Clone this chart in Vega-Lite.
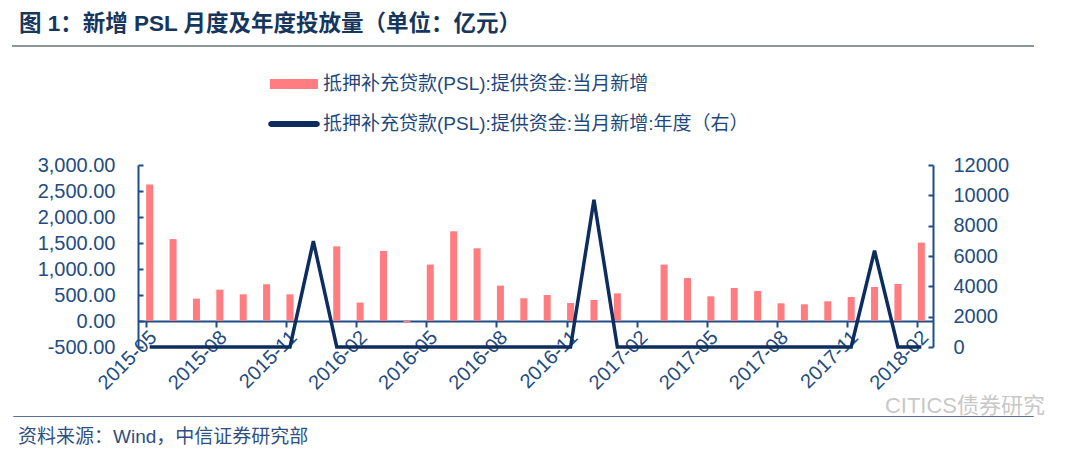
{
  "$schema": "https://vega.github.io/schema/vega-lite/v6.json",
  "padding": {"left": 12, "top": 11, "right": 0, "bottom": 0},
  "autosize": {"type": "pad"},
  "config": {
    "font": "Liberation Sans, Noto Sans CJK SC",
    "view": {"stroke": null},
    "axis": {"grid": false, "title": null}
  },
  "datasets": {
    "psl": [
      {"month": "2015-05", "monthly": 2625, "annual": 0},
      {"month": "2015-06", "monthly": 1575, "annual": 0},
      {"month": "2015-07", "monthly": 430, "annual": 0},
      {"month": "2015-08", "monthly": 603, "annual": 0},
      {"month": "2015-09", "monthly": 513, "annual": 0},
      {"month": "2015-10", "monthly": 705, "annual": 0},
      {"month": "2015-11", "monthly": 513, "annual": 0},
      {"month": "2015-12", "monthly": null, "annual": 6981},
      {"month": "2016-01", "monthly": 1436, "annual": 0},
      {"month": "2016-02", "monthly": 354, "annual": 0},
      {"month": "2016-03", "monthly": 1346, "annual": 0},
      {"month": "2016-04", "monthly": -35, "annual": 0},
      {"month": "2016-05", "monthly": 1085, "annual": 0},
      {"month": "2016-06", "monthly": 1725, "annual": 0},
      {"month": "2016-07", "monthly": 1398, "annual": 0},
      {"month": "2016-08", "monthly": 680, "annual": 0},
      {"month": "2016-09", "monthly": 437, "annual": 0},
      {"month": "2016-10", "monthly": 500, "annual": 0},
      {"month": "2016-11", "monthly": 346, "annual": 0},
      {"month": "2016-12", "monthly": 404, "annual": 9714},
      {"month": "2017-01", "monthly": 532, "annual": 0},
      {"month": "2017-02", "monthly": null, "annual": 0},
      {"month": "2017-03", "monthly": 1085, "annual": 0},
      {"month": "2017-04", "monthly": 827, "annual": 0},
      {"month": "2017-05", "monthly": 475, "annual": 0},
      {"month": "2017-06", "monthly": 635, "annual": 0},
      {"month": "2017-07", "monthly": 577, "annual": 0},
      {"month": "2017-08", "monthly": 340, "annual": 0},
      {"month": "2017-09", "monthly": 321, "annual": 0},
      {"month": "2017-10", "monthly": 379, "annual": 0},
      {"month": "2017-11", "monthly": 462, "annual": 0},
      {"month": "2017-12", "monthly": 654, "annual": 6350},
      {"month": "2018-01", "monthly": 712, "annual": 0},
      {"month": "2018-02", "monthly": 1508, "annual": 0}
    ]
  },
  "bounds": "full",
  "spacing": 1,
  "vconcat": [
    {
      "bounds": "flush",
      "spacing": 118,
      "vconcat": [
        {
          "width": 1020,
          "height": 0.01,
          "view": {"stroke": "#8C979C", "strokeWidth": 2},
          "title": {
            "text": "图 1：新增 PSL 月度及年度投放量（单位：亿元）",
            "anchor": "start",
            "frame": "group",
            "fontSize": 22.5,
            "fontWeight": "bold",
            "color": "#17365D",
            "offset": 5,
            "dx": 6
          },
          "data": {"values": [{}]},
          "mark": {"type": "text", "text": ""}
        },
        {
          "bounds": "flush",
          "spacing": 0,
          "hconcat": [
            {
              "width": 125,
              "height": 182,
              "data": {"values": [{}]},
              "mark": {"type": "text", "text": ""}
            },
            {
              "width": 795,
              "height": 182,
              "data": {"name": "psl"},
              "encoding": {
                "x": {
                  "field": "month",
                  "type": "ordinal",
                  "sort": null,
                  "scale": {
                    "type": "band",
                    "paddingInner": 0.7,
                    "paddingOuter": 0.35,
                    "domain": ["2015-05", "2015-06", "2015-07", "2015-08", "2015-09", "2015-10", "2015-11", "2015-12", "2016-01", "2016-02", "2016-03", "2016-04", "2016-05", "2016-06", "2016-07", "2016-08", "2016-09", "2016-10", "2016-11", "2016-12", "2017-01", "2017-02", "2017-03", "2017-04", "2017-05", "2017-06", "2017-07", "2017-08", "2017-09", "2017-10", "2017-11", "2017-12", "2018-01", "2018-02"]
                  },
                  "axis": {
                    "values": ["2015-05", "2015-08", "2015-11", "2016-02", "2016-05", "2016-08", "2016-11", "2017-02", "2017-05", "2017-08", "2017-11", "2018-02"],
                    "bandPosition": 0,
                    "labelOffset": 4,
                    "offset": -26,
                    "labelAngle": -45,
                    "labelAlign": "right",
                    "labelBaseline": "middle",
                    "labelFontSize": 20,
                    "labelColor": "#244C80",
                    "labelPadding": 7,
                    "tickSize": 6,
                    "tickWidth": 2,
                    "tickColor": "#1D4E89",
                    "domainWidth": 2,
                    "domainColor": "#1D4E89"
                  }
                }
              },
              "layer": [
                {
                  "mark": {"type": "bar"},
                  "encoding": {
                    "y": {
                      "field": "monthly",
                      "type": "quantitative",
                      "scale": {"domain": [-500, 3000], "nice": false, "zero": false},
                      "axis": {
                        "orient": "left",
                        "values": [-500, 0, 500, 1000, 1500, 2000, 2500, 3000],
                        "labelExpr": "replace(format(datum.value, ',.2f'), '−', '-')",
                        "labelFontSize": 20,
                        "labelColor": "#244C80",
                        "labelPadding": 28,
                        "tickSize": -5,
                        "tickWidth": 2,
                        "tickColor": "#1D4E89",
                        "domainWidth": 2,
                        "domainColor": "#1D4E89"
                      }
                    },
                    "color": {
                      "datum": "抵押补充贷款(PSL):提供资金:当月新增",
                      "type": "nominal",
                      "scale": {
                        "domain": ["抵押补充贷款(PSL):提供资金:当月新增", "抵押补充贷款(PSL):提供资金:当月新增:年度（右）"],
                        "range": ["#FF7C80", "#0C2D5E"]
                      },
                      "legend": {
                        "orient": "none",
                        "legendX": 269,
                        "legendY": 26,
                        "direction": "vertical",
                        "title": null,
                        "padding": 0,
                        "symbolSize": 576,
                        "labelFontSize": 19,
                        "labelColor": "#1F497D",
                        "labelLimit": 0,
                        "labelOffset": 17,
                        "rowPadding": 18,
                        "encode": {
                          "symbols": {
                            "update": {
                              "shape": {"signal": "indexof(datum.label, '年度') >= 0 ? 'M-1.9,-0.25H1.9A0.25,0.25,0,0,1,1.9,0.25H-1.9A0.25,0.25,0,0,1,-1.9,-0.25Z' : 'M-2,-0.42H2V0.42H-2Z'"},
                              "fill": {"signal": "indexof(datum.label, '年度') >= 0 ? '#0C2D5E' : '#FF7C80'"},
                              "stroke": {"value": "transparent"},
                              "strokeWidth": {"value": 0},
                              "opacity": {"value": 1}
                            }
                          }
                        }
                      }
                    }
                  }
                },
                {
                  "mark": {"type": "line", "strokeWidth": 3.5},
                  "encoding": {
                    "y": {
                      "field": "annual",
                      "type": "quantitative",
                      "scale": {"domain": [0, 12000], "nice": false},
                      "axis": {
                        "orient": "right",
                        "values": [0, 2000, 4000, 6000, 8000, 10000, 12000],
                        "format": "d",
                        "labelFontSize": 20,
                        "labelColor": "#244C80",
                        "labelPadding": 25,
                        "tickSize": -5,
                        "tickWidth": 2,
                        "tickColor": "#1D4E89",
                        "domainWidth": 2,
                        "domainColor": "#1D4E89"
                      }
                    },
                    "color": {"datum": "抵押补充贷款(PSL):提供资金:当月新增:年度（右）", "type": "nominal"}
                  }
                }
              ],
              "resolve": {"scale": {"y": "independent"}}
            }
          ]
        }
      ]
    },
    {
      "width": 1020,
      "height": 0.01,
      "view": {"stroke": "#5B7396", "strokeWidth": 1},
      "title": {
        "text": "资料来源：Wind，中信证券研究部",
        "orient": "bottom",
        "anchor": "start",
        "frame": "group",
        "fontSize": 19,
        "fontWeight": "normal",
        "color": "#2F4F7F",
        "offset": 11,
        "dx": 5
      },
      "data": {"values": [{"t": "CITICS债券研究"}]},
      "mark": {"type": "text", "align": "right", "baseline": "middle", "fontSize": 22, "color": "#C8C8C8", "dx": 12, "dy": -10},
      "encoding": {
        "text": {"field": "t"},
        "x": {"datum": 1, "type": "quantitative", "scale": {"domain": [0, 1]}, "axis": null}
      }
    }
  ]
}
